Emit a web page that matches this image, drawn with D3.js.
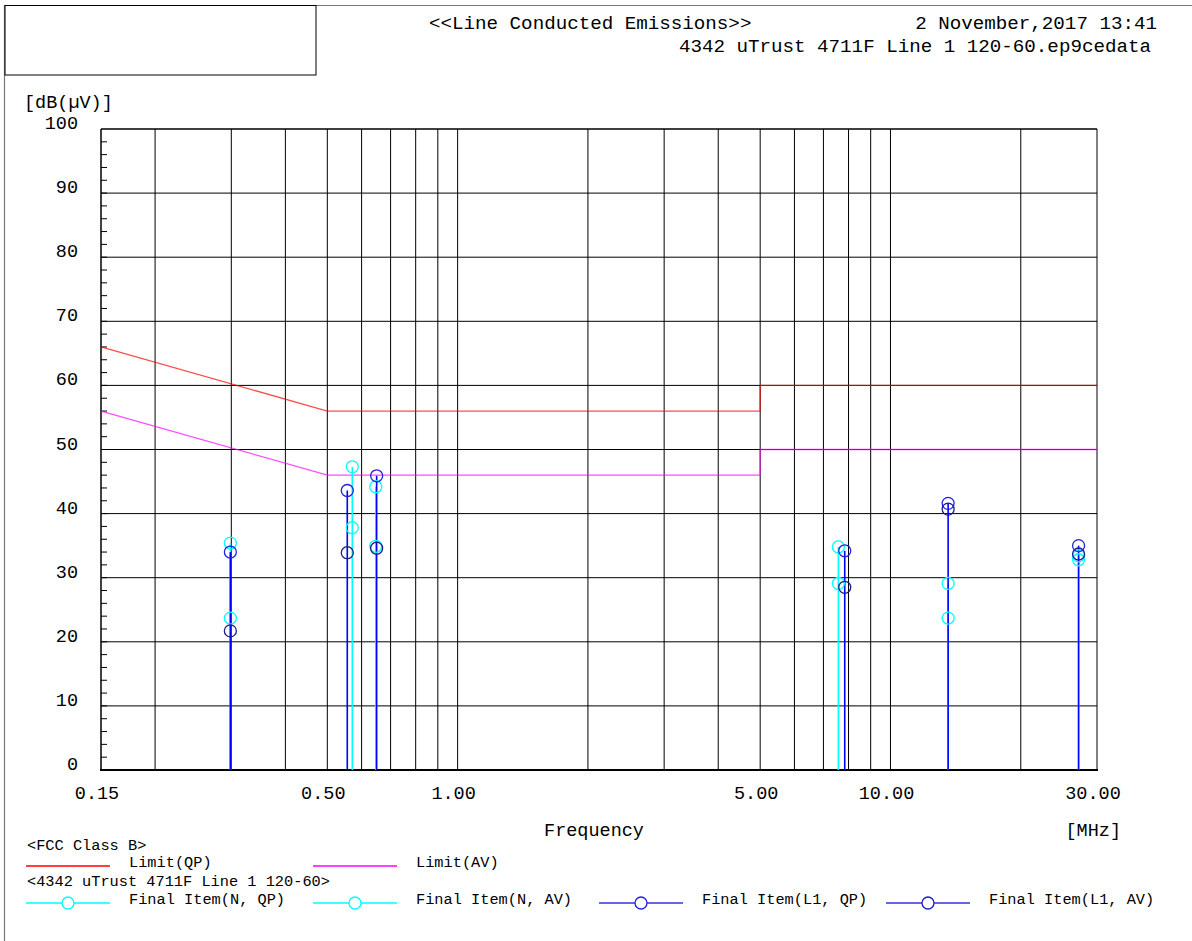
<!DOCTYPE html>
<html><head><meta charset="utf-8">
<script src="https://cdn.jsdelivr.net/npm/d3@7"></script>
<style>
html,body{margin:0;padding:0;background:#fff;}
svg{display:block;}
text{font-family:"Liberation Mono","DejaVu Sans Mono",monospace;fill:#000;}
</style></head>
<body>
<svg id="chart" width="1192" height="941"></svg>
<script>
// ---- data ----
const gridFreqs = [0.2,0.3,0.4,0.5,0.6,0.7,0.8,0.9,1,2,3,4,5,6,7,8,9,10,20,30];
const xTickValues = [0.15,0.5,1,5,10,30];
const xTickLabels = ["0.15","0.50","1.00","5.00","10.00","30.00"];
const yTickValues = [0,10,20,30,40,50,60,70,80,90,100];
const yMinorValues = d3.range(0,100,2);

const limitQPFreq = [0.15,0.5,5,5,30];
const limitQPVal  = [66,56,56,60,60];
const limitAVFreq = [0.15,0.5,5,5,30];
const limitAVVal  = [56,46,46,50,50];

const freqN  = [0.2985,0.571,0.647,7.58,13.59,27.2];
const nQP    = [35.4,47.3,44.2,34.8,29.1,33.4];
const nAV    = [23.7,37.8,34.9,29.1,23.7,32.8];
const freqL1 = [0.2985,0.556,0.650,7.84,13.59,27.2];
const l1QP   = [34.0,43.6,45.9,34.2,41.6,35.0];
const l1AV   = [21.7,33.9,34.6,28.5,40.7,33.7];

// ---- setup ----
const svg = d3.select("#chart");
const x = d3.scaleLog().domain([0.15,30]).range([101,1097]);
const y = d3.scaleLinear().domain([0,100]).range([770,129]);

// page frame
svg.append("line").attr("x1",4.5).attr("x2",4.5).attr("y1",5).attr("y2",941).attr("stroke","#777").attr("stroke-width",1.2);
svg.append("line").attr("x1",5).attr("x2",1192).attr("y1",5.5).attr("y2",5.5).attr("stroke","#777").attr("stroke-width",1.2);
svg.append("rect").attr("x",5).attr("y",5.5).attr("width",311).attr("height",69.5).attr("fill","none").attr("stroke","#000").attr("stroke-width",1);

// header texts
svg.append("text").attr("x",429).attr("y",29).attr("font-size",19.2).text("<<Line Conducted Emissions>>");
svg.append("text").attr("x",1157).attr("y",29).attr("text-anchor","end").attr("font-size",19.2).text("2 November,2017 13:41");
svg.append("text").attr("x",1151).attr("y",52).attr("text-anchor","end").attr("font-size",19.2).text("4342 uTrust 4711F Line 1 120-60.ep9cedata");

// grid
const g = svg.append("g");
g.selectAll(".hg").data(yTickValues).join("line")
  .attr("x1",101).attr("x2",1097).attr("y1",d=>y(d)).attr("y2",d=>y(d))
  .attr("stroke","#000").attr("stroke-width",1);
g.selectAll(".vg").data(gridFreqs).join("line")
  .attr("x1",d=>x(d)).attr("x2",d=>x(d)).attr("y1",y(100)).attr("y2",y(0))
  .attr("stroke","#000").attr("stroke-width",1);
// minor ticks
g.selectAll(".mt").data(yMinorValues).join("line")
  .attr("x1",101).attr("x2",107).attr("y1",d=>y(d)).attr("y2",d=>y(d))
  .attr("stroke","#000").attr("stroke-width",1);
// axes lines
svg.append("line").attr("x1",101).attr("x2",101).attr("y1",y(100)).attr("y2",y(0)+1).attr("stroke","#000").attr("stroke-width",1.5);
svg.append("line").attr("x1",100).attr("x2",1098).attr("y1",y(0)).attr("y2",y(0)).attr("stroke","#000").attr("stroke-width",2);
svg.append("line").attr("x1",101).attr("x2",1097).attr("y1",y(100)).attr("y2",y(100)).attr("stroke","#000").attr("stroke-width",1);

// y labels
svg.selectAll(".yl").data(yTickValues).join("text")
  .attr("x",78).attr("y",d=>y(d)).attr("text-anchor","end").attr("font-size",18.5)
  .text(d=>String(d));
svg.append("text").attr("x",24).attr("y",108).attr("font-size",18.5).text("[dB(\u00b5V)]");

// x labels
svg.selectAll(".xl").data(xTickValues).join("text")
  .attr("x",d=>x(d)-4).attr("y",799).attr("text-anchor","middle").attr("font-size",18.5)
  .text((d,i)=>xTickLabels[i]);
svg.append("text").attr("x",594).attr("y",836).attr("text-anchor","middle").attr("font-size",18.5).text("Frequency");
svg.append("text").attr("x",1121).attr("y",836).attr("text-anchor","end").attr("font-size",18.5).text("[MHz]");

// limits
const lineGen = d3.line().x(d=>x(d[0])).y(d=>y(d[1]));
svg.append("path").attr("d",lineGen(limitQPFreq.map((f,i)=>[f,limitQPVal[i]])))
  .attr("fill","none").attr("stroke","#ff0000").attr("stroke-width",1.3).attr("stroke-opacity",0.7);
svg.append("path").attr("d",lineGen(limitAVFreq.map((f,i)=>[f,limitAVVal[i]])))
  .attr("fill","none").attr("stroke","#ff00ff").attr("stroke-width",1.3).attr("stroke-opacity",0.7);

// stems
function stems(freqs, qp, av, color){
  svg.append("g").selectAll("line").data(freqs).join("line")
    .attr("x1",d=>x(d)).attr("x2",d=>x(d))
    .attr("y1",y(0)).attr("y2",(d,i)=>y(Math.max(qp[i],av[i])))
    .attr("stroke",color).attr("stroke-width",1.6);
}
stems(freqN,nQP,nAV,"#00ffff");
stems(freqL1,l1QP,l1AV,"#0000ff");

function circles(freqs, vals, color){
  svg.append("g").selectAll("circle").data(freqs).join("circle")
    .attr("cx",d=>x(d)).attr("cy",(d,i)=>y(vals[i])).attr("r",6)
    .attr("fill","none").attr("stroke",color).attr("stroke-width",1.3);
}
circles(freqN,nQP,"#00ffff");
circles(freqN,nAV,"#00ffff");
circles(freqL1,l1QP,"#2020e6");
circles(freqL1,l1AV,"#1c1c90");

// legend
const lf = 15.3;
svg.append("text").attr("x",27).attr("y",850).attr("font-size",lf).text("<FCC Class B>");
svg.append("text").attr("x",27).attr("y",886).attr("font-size",lf).text("<4342 uTrust 4711F Line 1 120-60>");
const legendItems = [
  {x0:26, y0:866, color:"#ff0000", circ:null, label:"Limit(QP)"},
  {x0:313, y0:866, color:"#ff00ff", circ:null, label:"Limit(AV)"},
  {x0:26, y0:903, color:"#00ffff", circ:"#00ffff", label:"Final Item(N, QP)"},
  {x0:313, y0:903, color:"#00ffff", circ:"#00ffff", label:"Final Item(N, AV)"},
  {x0:599, y0:903, color:"#3333e0", circ:"#2020e6", label:"Final Item(L1, QP)"},
  {x0:886, y0:903, color:"#3333e0", circ:"#1c1cc0", label:"Final Item(L1, AV)"}
];
legendItems.forEach(it=>{
  svg.append("line").attr("x1",it.x0).attr("x2",it.x0+84).attr("y1",it.y0).attr("y2",it.y0)
    .attr("stroke",it.color).attr("stroke-width",1.4);
  if(it.circ){
    svg.append("circle").attr("cx",it.x0+42).attr("cy",it.y0).attr("r",6)
      .attr("fill","#fff").attr("stroke",it.circ).attr("stroke-width",1.3);
  }
  svg.append("text").attr("x",it.x0+103).attr("y",it.y0+1).attr("font-size",lf).text(it.label);
});
</script>
</body></html>
